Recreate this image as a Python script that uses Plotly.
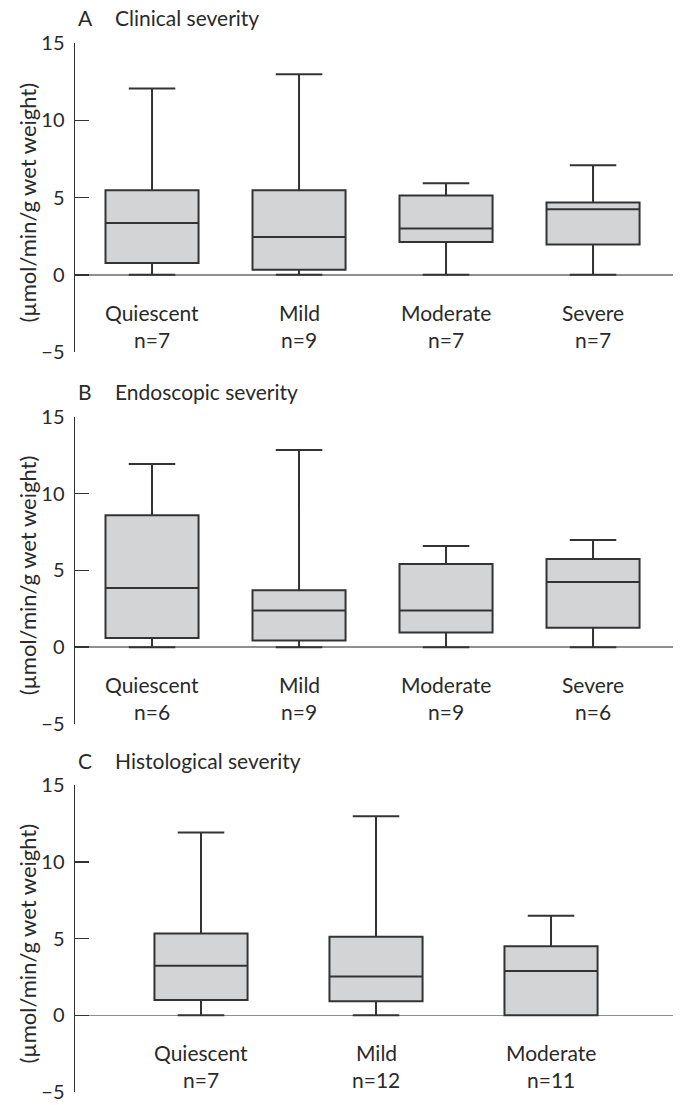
import plotly.graph_objects as go

# ---- data ----
cats_a = ["Quiescent", "Mild", "Moderate", "Severe"]
n_a = ["n=7", "n=9", "n=7", "n=7"]
low_a = [0.0, 0.0, 0.0, 0.0]
q1_a = [0.76, 0.32, 2.12, 1.95]
med_a = [3.35, 2.45, 3.0, 4.24]
q3_a = [5.47, 5.47, 5.13, 4.68]
high_a = [12.05, 12.98, 5.93, 7.08]

cats_b = ["Quiescent", "Mild", "Moderate", "Severe"]
n_b = ["n=6", "n=9", "n=9", "n=6"]
low_b = [0.0, 0.0, 0.0, 0.0]
q1_b = [0.59, 0.44, 0.96, 1.26]
med_b = [3.85, 2.39, 2.39, 4.24]
q3_b = [8.59, 3.70, 5.41, 5.74]
high_b = [11.92, 12.83, 6.59, 6.98]

cats_c = ["Quiescent", "Mild", "Moderate"]
n_c = ["n=7", "n=12", "n=11"]
low_c = [0.0, 0.0, 0.0]
q1_c = [0.99, 0.91, 0.0]
med_c = [3.23, 2.53, 2.88]
q3_c = [5.32, 5.11, 4.50]
high_c = [11.9, 12.97, 6.49]

letters = ["A", "B", "C"]
titles = ["Clinical severity", "Endoscopic severity", "Histological severity"]
ytitle = "(µmol/min/g wet weight)"
yticks = [-5, 0, 5, 10, 15]
yticktext = ["\u22125", "0", "5", "10", "15"]

panels = [
    (cats_a, n_a, low_a, q1_a, med_a, q3_a, high_a),
    (cats_b, n_b, low_b, q1_b, med_b, q3_b, high_b),
    (cats_c, n_c, low_c, q1_c, med_c, q3_c, high_c),
]

# ---- layout geometry ----
W, H = 682, 1105
ML, MR, MT, MB = 75, 9, 40, 5
PH = H - MT - MB
PW = W - ML - MR
FONT = "Lato"
TXT = "#2a2a2a"
panel_px = [(43, 352), (416.7, 724), (785, 1092)]
xranges = [[-0.524, 3.544], [-0.524, 3.544], [-0.72, 2.697]]
boxwidths = [0.633, 0.633, 0.532]


def fy(py):
    return (H - MB - py) / PH


def fx(px):
    return (px - ML) / PW


fig = go.Figure()
layout = dict(
    width=W, height=H,
    margin=dict(l=ML, r=MR, t=MT, b=MB, autoexpand=False),
    paper_bgcolor="white", plot_bgcolor="white",
    showlegend=False,
    font=dict(family=FONT, size=20, color=TXT),
)
annotations = []

for i, (cats, ns, lo, q1, md, q3, hi) in enumerate(panels):
    sfx = "" if i == 0 else str(i + 1)
    xa, ya = "x" + sfx, "y" + sfx
    xs = list(range(len(cats)))
    fig.add_trace(go.Box(
        x=xs, lowerfence=lo, q1=q1, median=md, q3=q3, upperfence=hi,
        xaxis=xa, yaxis=ya, width=boxwidths[i], whiskerwidth=0.5,
        fillcolor="#d3d4d6", line=dict(color="#333333", width=2),
        boxpoints=False, hoverinfo="skip",
    ))
    top, bot = panel_px[i]
    layout["xaxis" + sfx] = dict(
        domain=[0, 1], range=xranges[i], visible=False, anchor=ya,
        fixedrange=True, automargin=False,
    )
    layout["yaxis" + sfx] = dict(
        domain=[fy(bot), fy(top)], range=[-5, 15], anchor=xa,
        tickvals=yticks, ticktext=yticktext,
        ticks="inside", ticklen=14, tickwidth=1.5, tickcolor="#333333",
        showline=True, linecolor="#333333", linewidth=1.5,
        showgrid=False, zeroline=True, zerolinecolor="#8f8f8f",
        zerolinewidth=1.5, ticklabelstandoff=5, automargin=False,
        ticklabeloverflow="allow", fixedrange=True,
        tickfont=dict(family=FONT, size=20, color=TXT),
    )
    for j, c in enumerate(cats):
        annotations.append(dict(
            x=xs[j], y=-2.45, xref=xa, yref=ya, text=c, showarrow=False,
            font=dict(family=FONT, size=21, color=TXT),
            xanchor="center", yanchor="middle"))
        annotations.append(dict(
            x=xs[j], y=-4.2, xref=xa, yref=ya, text=ns[j], showarrow=False,
            font=dict(family=FONT, size=21, color=TXT),
            xanchor="center", yanchor="middle"))
    # panel letter + title
    ty = top - 25
    annotations.append(dict(
        x=fx(76), y=fy(ty), xref="paper", yref="paper", text=letters[i],
        showarrow=False, xanchor="left", yanchor="middle",
        font=dict(family=FONT, size=21, color=TXT)))
    annotations.append(dict(
        x=fx(113), y=fy(ty), xref="paper", yref="paper", text=titles[i],
        showarrow=False, xanchor="left", yanchor="middle",
        font=dict(family=FONT, size=21, color=TXT)))
    # y-axis title
    annotations.append(dict(
        x=fx(27), y=fy((top + bot) / 2 + 5), xref="paper", yref="paper",
        text=ytitle, textangle=-90, showarrow=False,
        xanchor="center", yanchor="middle",
        font=dict(family=FONT, size=22, color=TXT)))

layout["annotations"] = annotations
fig.update_layout(**layout)
fig.write_html(
    "out.html",
    config={"displayModeBar": False, "staticPlot": True},
    post_script="document.body.style.margin='0px';document.body.style.overflow='hidden';",
)
